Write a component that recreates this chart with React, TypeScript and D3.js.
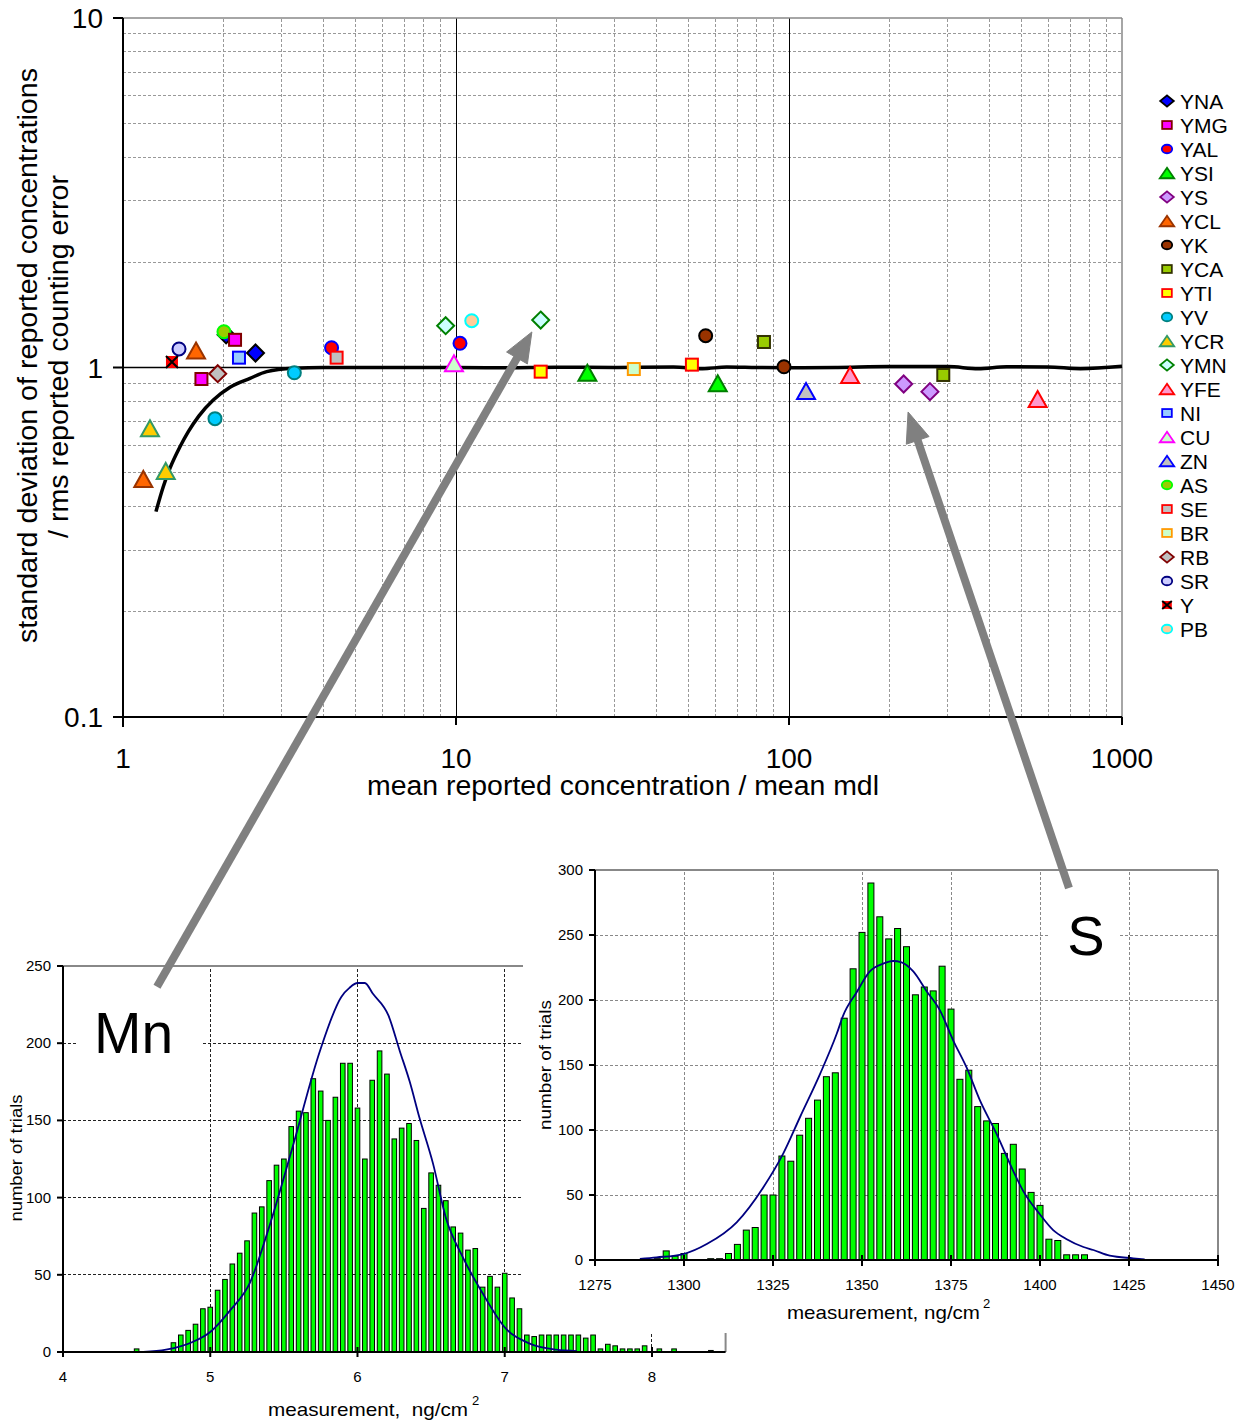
import React from 'react'
import * as d3 from 'd3'

const FONT = '"Liberation Sans", Arial, Helvetica, sans-serif'

// ---------- main chart: points ----------
const legendNames = ['YNA', 'YMG', 'YAL', 'YSI', 'YS', 'YCL', 'YK', 'YCA', 'YTI', 'YV', 'YCR', 'YMN', 'YFE', 'NI', 'CU', 'ZN', 'AS', 'SE', 'BR', 'RB', 'SR', 'Y', 'PB']

// drawn in this order
const mainPoints = [
  { s: 'YNA', x: 2.04, y: 1.24 },
  { s: 'AS', x: 2.01, y: 1.266 },
  { s: 'YMG', x: 2.17, y: 1.2 },
  { s: 'YNA', x: 2.5, y: 1.1 },
  { s: 'YMG', x: 1.72, y: 0.927 },
  { s: 'YAL', x: 4.23, y: 1.139 },
  { s: 'YAL', x: 10.28, y: 1.173 },
  { s: 'YSI', x: 24.8, y: 0.966 },
  { s: 'YSI', x: 61.1, y: 0.901 },
  { s: 'YS', x: 221, y: 0.897 },
  { s: 'YS', x: 265, y: 0.853 },
  { s: 'YCL', x: 1.657, y: 1.119 },
  { s: 'YCL', x: 1.151, y: 0.48 },
  { s: 'YK', x: 56.2, y: 1.233 },
  { s: 'YK', x: 96.6, y: 1.005 },
  { s: 'YCA', x: 84.1, y: 1.183 },
  { s: 'YCA', x: 290.6, y: 0.952 },
  { s: 'YTI', x: 17.96, y: 0.973 },
  { s: 'YTI', x: 51.1, y: 1.019 },
  { s: 'YV', x: 1.889, y: 0.714 },
  { s: 'YV', x: 3.27, y: 0.966 },
  { s: 'YCR', x: 1.205, y: 0.67 },
  { s: 'YCR', x: 1.344, y: 0.506 },
  { s: 'YMN', x: 9.31, y: 1.317 },
  { s: 'YMN', x: 17.96, y: 1.367 },
  { s: 'YFE', x: 152.5, y: 0.952 },
  { s: 'YFE', x: 558, y: 0.813 },
  { s: 'NI', x: 2.23, y: 1.067 },
  { s: 'CU', x: 9.86, y: 1.028 },
  { s: 'ZN', x: 112.5, y: 0.857 },
  { s: 'SE', x: 4.38, y: 1.067 },
  { s: 'BR', x: 34.2, y: 0.99 },
  { s: 'RB', x: 1.925, y: 0.96 },
  { s: 'SR', x: 1.473, y: 1.13 },
  { s: 'Y', x: 1.403, y: 1.037 },
  { s: 'PB', x: 11.15, y: 1.361 },
]

// fitted curve
const fitX = [1.256, 1.321, 1.384, 1.483, 1.571, 1.691, 1.867, 2.096, 2.407, 2.701, 3.25, 4, 6, 10, 14, 20, 30, 45, 55, 65, 80, 110, 140, 200, 300, 370, 450, 600, 750, 1000]
const fitY = [0.387, 0.456, 0.515, 0.593, 0.655, 0.727, 0.807, 0.878, 0.931, 0.973, 0.995, 1.0, 1.0, 1.0, 0.998, 1.002, 1.0, 1.003, 0.992, 1.003, 1.0, 0.998, 1.0, 1.006, 1.006, 0.992, 1.005, 1.004, 0.992, 1.008]

const mainXTicks = [1, 10, 100, 1000]
const mainYTicks = [0.1, 1, 10]

// arrows: tail (in the inset) -> tip (at the point), main-chart units
const arrows = [
  { x1: 1.265, y1: 0.0169, x2: 16.9, y2: 1.264 },
  { x1: 693, y1: 0.0324, x2: 227.8, y2: 0.746 },
]

// ---------- Mn histogram ----------
const mnBins = [4.5, 4.75, 4.8, 4.85, 4.9, 4.95, 5.0, 5.05, 5.1, 5.15, 5.2, 5.25, 5.3, 5.35, 5.4, 5.45, 5.5, 5.55, 5.6, 5.65, 5.7, 5.75, 5.8, 5.85, 5.9, 5.95, 6.0, 6.05, 6.1, 6.15, 6.2, 6.25, 6.3, 6.35, 6.4, 6.45, 6.5, 6.55, 6.6, 6.65, 6.7, 6.75, 6.8, 6.85, 6.9, 6.95, 7.0, 7.05, 7.1, 7.15, 7.2, 7.25, 7.3, 7.35, 7.4, 7.45, 7.5, 7.55, 7.6, 7.65, 7.7, 7.75, 7.8, 7.85, 7.9, 7.95, 8.05, 8.15, 8.4]
const mnCounts = [2, 6, 11, 14, 18, 28, 29, 40, 47, 57, 64, 72, 90, 94, 111, 121, 125, 146, 156, 155, 177, 169, 150, 165, 187, 187, 158, 125, 176, 195, 180, 138, 145, 148, 137, 93, 116, 108, 98, 81, 77, 66, 67, 42, 49, 42, 51, 35, 28, 11, 10, 11, 11, 11, 11, 11, 11, 9, 11, 2, 5, 4, 2, 2, 2, 4, 2, 2, 1]
const mnCurveX = [4.545, 4.7, 4.88, 5.0, 5.135, 5.27, 5.4, 5.56, 5.745, 5.89, 5.947, 6.0, 6.05, 6.105, 6.21, 6.287, 6.355, 6.42, 6.513, 6.6, 6.715, 6.85, 7.0, 7.17, 7.35, 7.49]
const mnCurveY = [0, 1.5, 6.5, 13, 27, 45, 81, 133, 195, 230, 236, 239, 239, 232, 218, 195, 175, 152, 122, 87, 61.5, 38, 16, 5.4, 1.5, 0.6]
const mnXTicks = [4, 5, 6, 7, 8]
const mnYTicks = [0, 50, 100, 150, 200, 250]

// ---------- S histogram ----------
const sBins = [1292.5, 1295, 1297.5, 1300, 1307.5, 1310, 1312.5, 1315, 1317.5, 1320, 1322.5, 1325, 1327.5, 1330, 1332.5, 1335, 1337.5, 1340, 1342.5, 1345, 1347.5, 1350, 1352.5, 1355, 1357.5, 1360, 1362.5, 1365, 1367.5, 1370, 1372.5, 1375, 1377.5, 1380, 1382.5, 1385, 1387.5, 1390, 1392.5, 1395, 1397.5, 1400, 1402.5, 1405, 1407.5, 1410, 1412.5]
const sCounts = [1, 7, 3, 5, 1, 1, 5, 12, 23, 25, 50, 50, 80, 76, 96, 109, 123, 141, 144, 186, 224, 252, 290, 264, 247, 255, 241, 204, 210, 207, 226, 193, 139, 146, 118, 107, 105, 82, 89, 70, 52, 42, 16, 15, 4, 4, 4]
const sCurveX = [1287.6, 1292.3, 1299.8, 1306.4, 1314.8, 1322.3, 1327.9, 1332.6, 1338.2, 1342.9, 1344.7, 1348.5, 1352.2, 1356, 1358.7, 1361.1, 1364.4, 1368.1, 1371.9, 1375.6, 1379.4, 1383.1, 1387.8, 1392.4, 1395.3, 1400, 1403.7, 1407.5, 1412.2, 1415, 1419.6, 1426.2, 1429.4]
const sCurveY = [0.8, 2, 4.6, 12.3, 29, 56, 82, 110, 143, 174, 188, 206, 222, 228, 230, 229, 222, 207, 192, 169, 148, 123, 97, 69, 53, 35, 23, 16, 10, 7.7, 3.3, 1.3, 0.5]
const sXTicks = [1275, 1300, 1325, 1350, 1375, 1400, 1425, 1450]
const sYTicks = [0, 50, 100, 150, 200, 250, 300]

// marker look per series
const markerStyle: Record<string, { shape: string; fill: string; stroke: string }> = {
  YNA: { shape: 'diamond', fill: '#0000FF', stroke: '#000000' },
  YMG: { shape: 'square', fill: '#FF00FF', stroke: '#800000' },
  YAL: { shape: 'circle', fill: '#FF0000', stroke: '#0000FF' },
  YSI: { shape: 'triangle', fill: '#00FF00', stroke: '#008000' },
  YS: { shape: 'diamond', fill: '#CC99FF', stroke: '#800080' },
  YCL: { shape: 'triangle', fill: '#FF6600', stroke: '#993300' },
  YK: { shape: 'circle', fill: '#993300', stroke: '#000000' },
  YCA: { shape: 'square', fill: '#99CC00', stroke: '#333300' },
  YTI: { shape: 'square', fill: '#FFFF00', stroke: '#FF0000' },
  YV: { shape: 'circle', fill: '#00CCFF', stroke: '#008080' },
  YCR: { shape: 'triangle', fill: '#FFCC00', stroke: '#339966' },
  YMN: { shape: 'diamond', fill: '#CCFFFF', stroke: '#008000' },
  YFE: { shape: 'triangle', fill: '#FF99CC', stroke: '#FF0000' },
  NI: { shape: 'square', fill: '#99CCFF', stroke: '#0000FF' },
  CU: { shape: 'triangle', fill: '#CCFFCC', stroke: '#FF00FF' },
  ZN: { shape: 'triangle', fill: '#C0C0C0', stroke: '#0000FF' },
  AS: { shape: 'circle', fill: '#99CC00', stroke: '#00FF00' },
  SE: { shape: 'square', fill: '#C0C0C0', stroke: '#FF0000' },
  BR: { shape: 'square', fill: '#CCFFCC', stroke: '#FF9900' },
  RB: { shape: 'diamond', fill: '#C0C0C0', stroke: '#800000' },
  SR: { shape: 'circle', fill: '#CCCCFF', stroke: '#000080' },
  Y: { shape: 'x', fill: '#FF0000', stroke: '#000000' },
  PB: { shape: 'circle', fill: '#FFCC99', stroke: '#00FFFF' },
}

function Marker({ name, cx, cy, k = 1, sw = 2, flat = 1 }: { name: string; cx: number; cy: number; k?: number; sw?: number; flat?: number }) {
  const st = markerStyle[name]
  const common = { fill: st.fill, stroke: st.stroke, strokeWidth: sw }
  if (st.shape === 'diamond') {
    const w = 8.5 * k, h = 8.5 * k * flat
    return <path d={`M${cx},${cy - h}L${cx + w},${cy}L${cx},${cy + h}L${cx - w},${cy}Z`} {...common} />
  }
  if (st.shape === 'triangle') {
    const w = 9 * k, h = 8 * k * flat
    return <path d={`M${cx},${cy - h}L${cx + w},${cy + h}L${cx - w},${cy + h}Z`} {...common} />
  }
  if (st.shape === 'square') {
    const a = 6 * k, b = 6 * k * flat
    return <rect x={cx - a} y={cy - b} width={2 * a} height={2 * b} {...common} />
  }
  if (st.shape === 'circle') {
    return <ellipse cx={cx} cy={cy} rx={6.5 * k} ry={6.5 * k * flat} {...common} />
  }
  const a = 6 * k, b = 6 * k * flat
  return (
    <g>
      <rect x={cx - a} y={cy - b} width={2 * a} height={2 * b} fill={st.fill} />
      <path d={`M${cx - a},${cy - b}L${cx + a},${cy + b}M${cx + a},${cy - b}L${cx - a},${cy + b}`} stroke="#000" strokeWidth={2} />
    </g>
  )
}

function Arrow({ x1, y1, x2, y2 }: { x1: number; y1: number; x2: number; y2: number }) {
  const dx = x2 - x1, dy = y2 - y1
  const len = Math.hypot(dx, dy)
  const ux = dx / len, uy = dy / len
  const nx = -uy, ny = ux
  const hl = 30, hw = 12
  const bx = x2 - ux * hl, by = y2 - uy * hl
  return (
    <g fill="#808080" stroke="#808080">
      <line x1={x1} y1={y1} x2={bx + ux * 2} y2={by + uy * 2} strokeWidth={8} />
      <path d={`M${x2},${y2}L${bx + nx * hw},${by + ny * hw}L${bx - nx * hw},${by - ny * hw}Z`} strokeWidth={1} />
    </g>
  )
}

export default function App() {
  // main chart scales
  const xM = d3.scaleLog().domain([1, 1000]).range([123, 1122])
  const yM = d3.scaleLog().domain([0.1, 10]).range([717, 18])
  // Mn inset
  const xMn = d3.scaleLinear().domain([4, 8.5]).range([63, 725.6])
  const yMn = d3.scaleLinear().domain([0, 250]).range([1352, 966])
  // S inset
  const xS = d3.scaleLinear().domain([1275, 1450]).range([595, 1218])
  const yS = d3.scaleLinear().domain([0, 300]).range([1260, 870])

  const fitPath = d3.line<number>()
    .x((_, i) => xM(fitX[i]))
    .y((_, i) => yM(fitY[i]))
    .curve(d3.curveMonotoneX)(fitX)
  const mnPath = d3.line<number>()
    .x((_, i) => xMn(mnCurveX[i]))
    .y((_, i) => yMn(mnCurveY[i]))
    .curve(d3.curveMonotoneX)(mnCurveX)
  const sPath = d3.line<number>()
    .x((_, i) => xS(sCurveX[i]))
    .y((_, i) => yS(sCurveY[i]))
    .curve(d3.curveMonotoneX)(sCurveX)

  const yMinor = yM.ticks().filter(v => !mainYTicks.includes(v))
  const xMinor = xM.ticks().filter(v => !mainXTicks.includes(v))

  const mnBw = 4.6
  const sBw = 6
  const crisp = { shapeRendering: 'crispEdges' as const }

  return (
    <svg width={1245} height={1423} style={{ position: 'absolute', left: 0, top: 0, display: 'block', background: '#fff' }} fontFamily={FONT}>
      <rect width={1245} height={1423} fill="#fff" />

      {/* ===== main chart ===== */}
      <g>
        {yMinor.map(v => (
          <line key={'hy' + v} x1={xM(1)} x2={xM(1000)} y1={yM(v)} y2={yM(v)} stroke="#999" strokeWidth={1} strokeDasharray="3,2" {...crisp} />
        ))}
        {xMinor.map(v => (
          <line key={'vx' + v} x1={xM(v)} x2={xM(v)} y1={yM(0.1)} y2={yM(10)} stroke="#999" strokeWidth={1} strokeDasharray="3,2" {...crisp} />
        ))}
        {[10, 100].map(v => (
          <line key={'vmaj' + v} x1={xM(v)} x2={xM(v)} y1={yM(0.1)} y2={yM(10)} stroke="#000" strokeWidth={1} {...crisp} />
        ))}
        <line x1={xM(1)} x2={xM(1000)} y1={yM(1)} y2={yM(1)} stroke="#000" strokeWidth={1.5} />
        <line x1={xM(1)} x2={xM(1000)} y1={yM(10)} y2={yM(10)} stroke="#888" strokeWidth={1.5} />
        <line x1={xM(1000)} x2={xM(1000)} y1={yM(10)} y2={yM(0.1)} stroke="#888" strokeWidth={1.5} />

        {/* axes */}
        <line x1={xM(1)} x2={xM(1)} y1={yM(10)} y2={yM(0.1) + 10} stroke="#000" strokeWidth={2} />
        <line x1={xM(1)} x2={xM(1000)} y1={yM(0.1)} y2={yM(0.1)} stroke="#000" strokeWidth={2} />
        {mainYTicks.map(v => (
          <g key={'yt' + v}>
            <line x1={xM(1) - 10} x2={xM(1)} y1={yM(v)} y2={yM(v)} stroke="#000" strokeWidth={2} />
            <text x={103} y={yM(v) + 10} textAnchor="end" fontSize={28}>{String(v)}</text>
          </g>
        ))}
        {mainXTicks.map(v => (
          <g key={'xt' + v}>
            <line x1={xM(v)} x2={xM(v)} y1={yM(0.1)} y2={yM(0.1) + 8} stroke="#000" strokeWidth={2} />
            <text x={xM(v)} y={768} textAnchor="middle" fontSize={28}>{String(v)}</text>
          </g>
        ))}
        <text x={623} y={795} textAnchor="middle" fontSize={27} textLength={512} lengthAdjust="spacingAndGlyphs">mean reported concentration / mean mdl</text>
        <text transform="translate(37,355.5) rotate(-90)" textAnchor="middle" fontSize={27} textLength={575} lengthAdjust="spacingAndGlyphs">standard deviation of reported concentrations</text>
        <text transform="translate(68,356.5) rotate(-90)" textAnchor="middle" fontSize={27} textLength={363} lengthAdjust="spacingAndGlyphs">/ rms reported counting error</text>

        <path d={fitPath || ''} fill="none" stroke="#000" strokeWidth={3.5} strokeLinejoin="round" />

        {mainPoints.map((p, i) => (
          <Marker key={'p' + i} name={p.s} cx={xM(p.x)} cy={yM(p.y)} />
        ))}

        {/* legend */}
        {legendNames.map((n, i) => (
          <g key={'lg' + n}>
            <Marker name={n} cx={1167} cy={101 + i * 24} k={0.8} sw={1.8} flat={0.82} />
            <text x={1180} y={101 + i * 24 + 7.5} fontSize={21}>{n}</text>
          </g>
        ))}
      </g>

      {/* ===== Mn inset ===== */}
      <g>
        {mnYTicks.filter(v => v > 0 && v < 250).map(v => (
          <line key={'mgy' + v} x1={xMn(4)} x2={xMn(8.5)} y1={yMn(v)} y2={yMn(v)} stroke="#222" strokeWidth={1} strokeDasharray="3,2" {...crisp} />
        ))}
        {mnXTicks.filter(v => v > 4).map(v => (
          <line key={'mgx' + v} x1={xMn(v)} x2={xMn(v)} y1={yMn(0)} y2={yMn(250)} stroke="#222" strokeWidth={1} strokeDasharray="3,2" {...crisp} />
        ))}
        <line x1={xMn(4)} x2={xMn(8.5)} y1={yMn(250)} y2={yMn(250)} stroke="#888" strokeWidth={2} />
        <line x1={xMn(8.5)} x2={xMn(8.5)} y1={yMn(250)} y2={yMn(0)} stroke="#888" strokeWidth={2} />
        {mnBins.map((b, i) => (
          <rect key={'mb' + i} x={xMn(b) - mnBw / 2} y={yMn(mnCounts[i])} width={mnBw} height={yMn(0) - yMn(mnCounts[i])} fill="#00FF00" stroke="#000" strokeWidth={1} />
        ))}
        <path d={mnPath || ''} fill="none" stroke="#000080" strokeWidth={1.8} />
        <line x1={xMn(4)} x2={xMn(4)} y1={yMn(250)} y2={yMn(0)} stroke="#000" strokeWidth={2} />
        <line x1={xMn(4)} x2={xMn(8.5)} y1={yMn(0)} y2={yMn(0)} stroke="#000" strokeWidth={2} />
        {mnYTicks.map(v => (
          <g key={'myt' + v}>
            <line x1={xMn(4) - 6} x2={xMn(4)} y1={yMn(v)} y2={yMn(v)} stroke="#000" strokeWidth={2} />
            <text x={51} y={yMn(v) + 5} textAnchor="end" fontSize={15}>{v}</text>
          </g>
        ))}
        {mnXTicks.map(v => (
          <g key={'mxt' + v}>
            <line x1={xMn(v)} x2={xMn(v)} y1={yMn(0) - 5} y2={yMn(0) + 5} stroke="#000" strokeWidth={2} />
            <text x={xMn(v)} y={1382} textAnchor="middle" fontSize={15}>{v}</text>
          </g>
        ))}
        <text transform="translate(22,1158) rotate(-90)" textAnchor="middle" fontSize={17} textLength={127} lengthAdjust="spacingAndGlyphs">number of trials</text>
        <text x={268} y={1416} fontSize={19} textLength={200} lengthAdjust="spacingAndGlyphs" style={{ whiteSpace: 'pre' }}>{'measurement,  ng/cm'}</text>
        <text x={472} y={1405} fontSize={13}>2</text>
        <rect x={78} y={995} width={124} height={72} fill="#fff" />
        <text x={94} y={1053} fontSize={57}>Mn</text>
      </g>

      {/* ===== S inset (its white area covers part of the Mn inset) ===== */}
      <g>
        <rect x={523} y={845} width={722} height={488} fill="#fff" />
        {sYTicks.filter(v => v > 0 && v < 300).map(v => (
          <line key={'sgy' + v} x1={xS(1275)} x2={xS(1450)} y1={yS(v)} y2={yS(v)} stroke="#888" strokeWidth={1} strokeDasharray="3,2" {...crisp} />
        ))}
        {sXTicks.filter(v => v > 1275 && v < 1450).map(v => (
          <line key={'sgx' + v} x1={xS(v)} x2={xS(v)} y1={yS(0)} y2={yS(300)} stroke="#888" strokeWidth={1} strokeDasharray="3,2" {...crisp} />
        ))}
        <line x1={xS(1275)} x2={xS(1450)} y1={yS(300)} y2={yS(300)} stroke="#888" strokeWidth={2} />
        <line x1={xS(1450)} x2={xS(1450)} y1={yS(300)} y2={yS(0)} stroke="#888" strokeWidth={2} />
        <rect x={1048} y={898} width={72} height={70} fill="#fff" />
        <text x={1086} y={955} textAnchor="middle" fontSize={56}>S</text>
        {sBins.map((b, i) => (
          <rect key={'sb' + i} x={xS(b) - sBw / 2} y={yS(sCounts[i])} width={sBw} height={yS(0) - yS(sCounts[i])} fill="#00FF00" stroke="#000" strokeWidth={1} />
        ))}
        <path d={sPath || ''} fill="none" stroke="#000080" strokeWidth={1.8} />
        <line x1={xS(1275)} x2={xS(1275)} y1={yS(300)} y2={yS(0)} stroke="#000" strokeWidth={2} />
        <line x1={xS(1275)} x2={xS(1450)} y1={yS(0)} y2={yS(0)} stroke="#000" strokeWidth={2} />
        {sYTicks.map(v => (
          <g key={'syt' + v}>
            <line x1={xS(1275) - 6} x2={xS(1275)} y1={yS(v)} y2={yS(v)} stroke="#000" strokeWidth={2} />
            <text x={583} y={yS(v) + 5} textAnchor="end" fontSize={15}>{v}</text>
          </g>
        ))}
        {sXTicks.map(v => (
          <g key={'sxt' + v}>
            <line x1={xS(v)} x2={xS(v)} y1={yS(0) - 5} y2={yS(0) + 6} stroke="#000" strokeWidth={2} />
            <text x={xS(v)} y={1290} textAnchor="middle" fontSize={15}>{v}</text>
          </g>
        ))}
        <text transform="translate(551,1065) rotate(-90)" textAnchor="middle" fontSize={17} textLength={130} lengthAdjust="spacingAndGlyphs">number of trials</text>
        <text x={787} y={1319} fontSize={19} textLength={193} lengthAdjust="spacingAndGlyphs">measurement, ng/cm</text>
        <text x={983} y={1308} fontSize={13}>2</text>
      </g>

      {/* ===== annotation arrows ===== */}
      {arrows.map((a, i) => (
        <Arrow key={'ar' + i} x1={xM(a.x1)} y1={yM(a.y1)} x2={xM(a.x2)} y2={yM(a.y2)} />
      ))}
    </svg>
  )
}
